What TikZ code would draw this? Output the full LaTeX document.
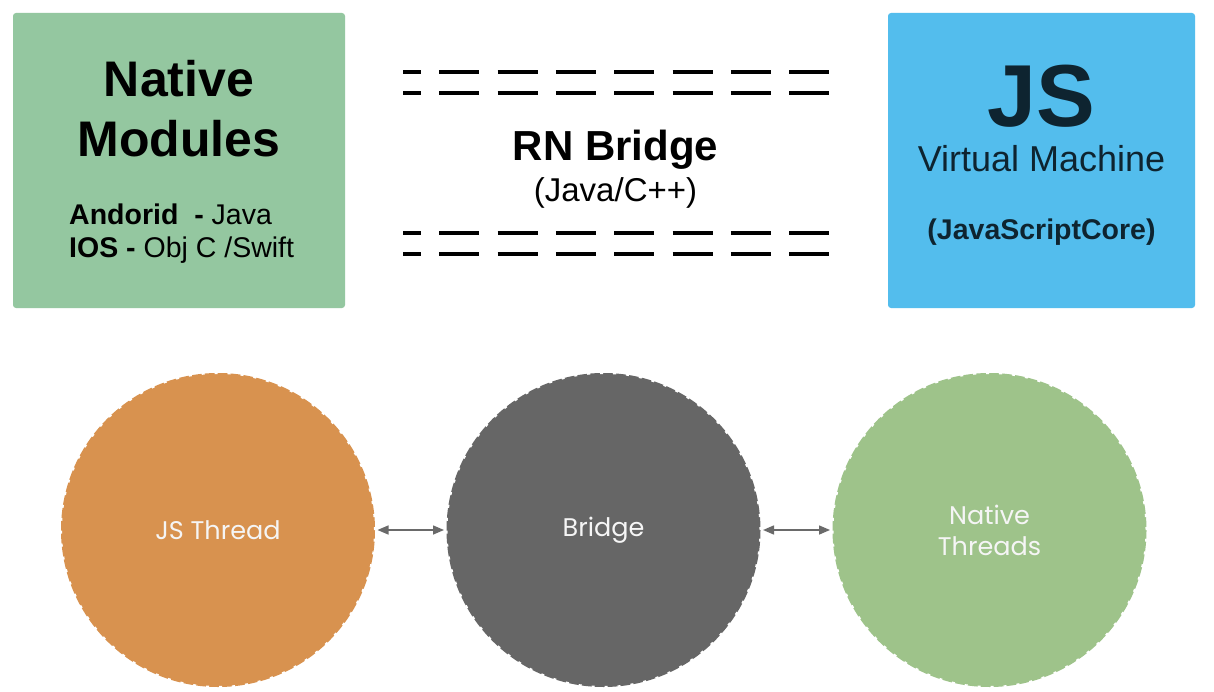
\documentclass[tikz,border=0pt]{standalone}
\usepackage{fontspec}
\setmainfont{Liberation Sans}
\newfontfamily\circfont{Poppins}
\usetikzlibrary{arrows.meta}
\definecolor{boxgreen}{HTML}{94C7A0}
\definecolor{boxblue}{HTML}{53BDED}
\definecolor{jsnavy}{HTML}{0E2430}
\definecolor{corange}{HTML}{D8924F}
\definecolor{cgray}{HTML}{666666}
\definecolor{cgreen}{HTML}{9EC38A}
\definecolor{arrowgray}{HTML}{6A6A6A}
\tikzset{
  panel/.style={rounded corners=3pt, draw=none},
  bridgedash/.style={line width=4pt, dash pattern=on 40pt off 18.3pt, dash phase=22pt},
  thread/.style={circle, minimum size=314pt, inner sep=0pt, draw=white, line width=2pt,
    dash pattern=on 3pt off 10pt, text=white!96!black, align=center,
    font=\circfont\fontsize{25.5}{31}\selectfont},
  link/.style={draw=arrowgray, line width=1.5pt, {Triangle[length=11pt,width=9pt]}-{Triangle[length=11pt,width=9pt]}, shorten <=1.5pt, shorten >=1.5pt},
  txt/.style={anchor=base, inner sep=0pt}
}
\begin{document}
\begin{tikzpicture}[x=1pt,y=-1pt]
\useasboundingbox[fill=white] (0,0) rectangle (1214,692);
% panels
\node[panel, fill=boxgreen, minimum width=332pt, minimum height=295pt, inner sep=0pt] (native) at (179,160.5) {};
\node[panel, fill=boxblue, minimum width=307pt, minimum height=295pt, inner sep=0pt] (jsvm) at (1041.5,160.5) {};
% native text
\node[txt, font=\bfseries\fontsize{50}{55}\selectfont] (nat1) at (179,97) {Native};
\node[txt, font=\bfseries\fontsize{50}{55}\selectfont] (nat2) at (179,157) {Modules};
\node[txt, anchor=base west, font=\fontsize{28.5}{33}\selectfont] (and) at (69,225) {\textbf{Andorid\ \ -} Java};
\node[txt, anchor=base west, font=\fontsize{28.5}{33}\selectfont] (ios) at (69,258) {\textbf{IOS -} Obj C /Swift};
% JS text
\node[txt, text=jsnavy, font=\bfseries\fontsize{88}{90}\selectfont] (js) at (1041.5,127) {JS};
\node[txt, text=jsnavy, font=\fontsize{36}{40}\selectfont] (vm) at (1041.5,172) {Virtual Machine};
\node[txt, text=jsnavy, font=\bfseries\fontsize{28.5}{32}\selectfont] (jsc) at (1041.5,240) {(JavaScriptCore)};
% bridge
\coordinate (d1a) at (403,72);  \coordinate (d1b) at (829,72);
\coordinate (d2a) at (403,93);  \coordinate (d2b) at (829,93);
\coordinate (d3a) at (403,233); \coordinate (d3b) at (829,233);
\coordinate (d4a) at (403,254); \coordinate (d4b) at (829,254);
\draw[bridgedash] (d1a) -- (d1b);
\draw[bridgedash] (d2a) -- (d2b);
\draw[bridgedash] (d3a) -- (d3b);
\draw[bridgedash] (d4a) -- (d4b);
\node[txt, font=\bfseries\fontsize{42}{46}\selectfont] (rn) at (615.5,161) {RN Bridge};
\node[txt, font=\fontsize{33}{36}\selectfont] (jc) at (615.5,202) {(Java/C++)};
% threads
\node[thread, fill=corange] (c1) at (218,530) {JS Thread};
\node[thread, fill=cgray] (c2) at (603.5,530) {Bridge};
\node[thread, fill=cgreen] (c3) at (989.5,530) {Native\\Threads};
\draw[link] (c1.east) -- (c2.west);
\draw[link] (c2.east) -- (c3.west);
\end{tikzpicture}
\end{document}
